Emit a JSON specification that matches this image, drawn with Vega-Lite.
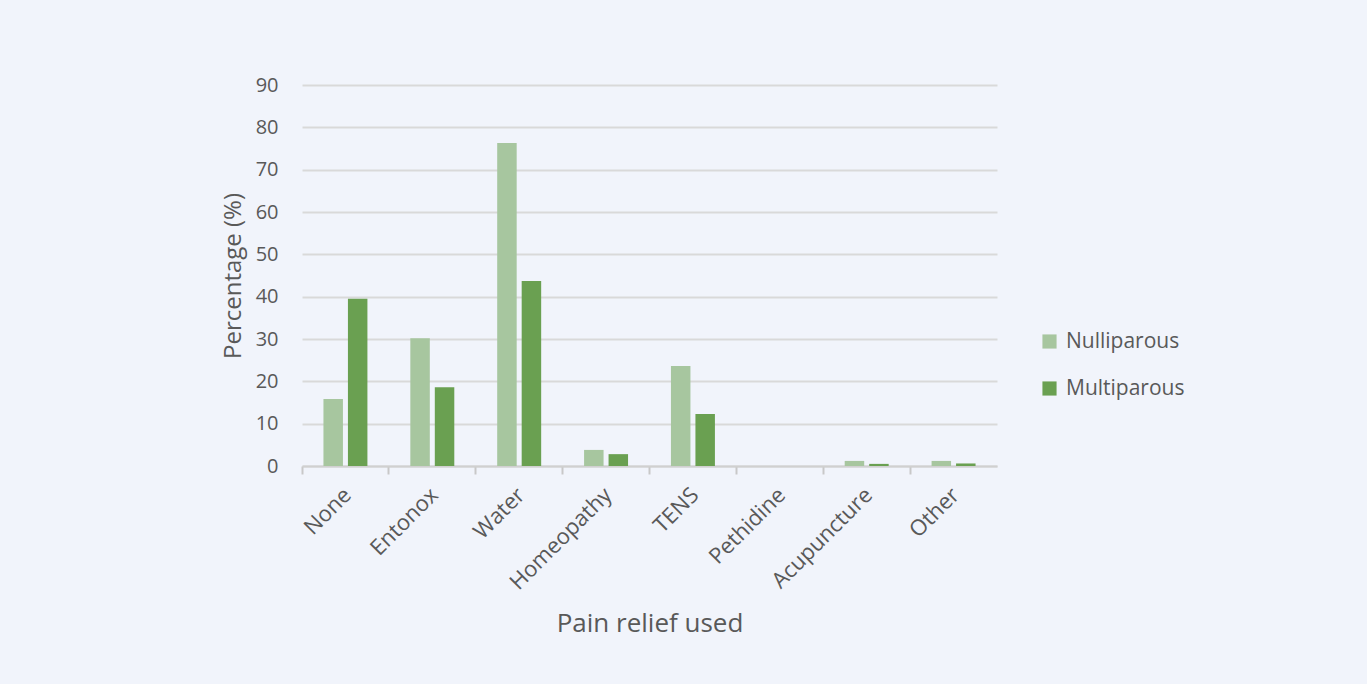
{
  "$schema": "https://vega.github.io/schema/vega-lite/v6.json",
  "width": 695,
  "height": 381,
  "autosize": {"type": "none"},
  "padding": {"left": 302, "top": 85, "right": 370, "bottom": 218},
  "background": "#f1f4fb",
  "config": {
    "view": {"stroke": null},
    "font": "Open Sans",
    "axis": {"labelColor": "#595959", "titleColor": "#595959", "labelFont": "Open Sans", "titleFont": "Open Sans", "titleFontWeight": "normal"},
    "legend": {"labelColor": "#595959", "labelFont": "Open Sans"}
  },
  "data": {
    "values": [
      {"relief": "None", "group": "Nulliparous", "pct": 15.8},
      {"relief": "None", "group": "Multiparous", "pct": 39.5},
      {"relief": "Entonox", "group": "Nulliparous", "pct": 30.2},
      {"relief": "Entonox", "group": "Multiparous", "pct": 18.6},
      {"relief": "Water", "group": "Nulliparous", "pct": 76.3},
      {"relief": "Water", "group": "Multiparous", "pct": 43.7},
      {"relief": "Homeopathy", "group": "Nulliparous", "pct": 3.8},
      {"relief": "Homeopathy", "group": "Multiparous", "pct": 2.8},
      {"relief": "TENS", "group": "Nulliparous", "pct": 23.6},
      {"relief": "TENS", "group": "Multiparous", "pct": 12.3},
      {"relief": "Pethidine", "group": "Nulliparous", "pct": 0},
      {"relief": "Pethidine", "group": "Multiparous", "pct": 0},
      {"relief": "Acupuncture", "group": "Nulliparous", "pct": 1.2},
      {"relief": "Acupuncture", "group": "Multiparous", "pct": 0.5},
      {"relief": "Other", "group": "Nulliparous", "pct": 1.2},
      {"relief": "Other", "group": "Multiparous", "pct": 0.6}
    ]
  },
  "resolve": {"axis": {"x": "independent"}},
  "layer": [
    {
      "mark": {"type": "bar", "opacity": 0},
      "encoding": {
        "x": {
          "field": "relief", "type": "nominal", "sort": null,
          "scale": {"paddingInner": 0, "paddingOuter": 0},
          "title": "Pain relief used",
          "axis": {
            "orient": "bottom",
            "labelAngle": -45, "labelFontSize": 22, "labelPadding": 18, "labelOffset": -5,
            "ticks": false, "domain": false, "titleFontSize": 26, "titlePadding": 17
          }
        }
      }
    },
    {
      "mark": {"type": "bar"},
      "encoding": {
        "x": {
          "field": "relief", "type": "nominal", "sort": null,
          "axis": {
            "orient": "bottom",
            "labels": false, "title": null, "bandPosition": 0,
            "ticks": true, "tickSize": 8, "tickColor": "#c8c8c8", "tickWidth": 2,
            "domain": true, "domainColor": "#d0d0d0", "domainWidth": 2
          }
        },
        "xOffset": {"field": "group", "type": "nominal", "sort": ["Nulliparous", "Multiparous"], "scale": {"paddingInner": 0.204, "paddingOuter": 0.876}},
        "y": {
          "field": "pct", "type": "quantitative",
          "scale": {"domain": [0, 90]},
          "title": "Percentage (%)",
          "axis": {
            "values": [0, 10, 20, 30, 40, 50, 60, 70, 80, 90],
            "domain": false, "ticks": false,
            "gridColor": "#d9d9d9", "gridWidth": 2,
            "labelFontSize": 20, "labelPadding": 24,
            "titleFontSize": 24, "titlePadding": 10
          }
        },
        "color": {
          "field": "group", "type": "nominal",
          "sort": ["Nulliparous", "Multiparous"],
          "scale": {"domain": ["Nulliparous", "Multiparous"], "range": ["#a7c69f", "#6aa051"]},
          "legend": {
            "title": null, "orient": "none", "legendX": 737, "legendY": 246,
            "symbolType": "square", "symbolSize": 200, "symbolStrokeWidth": 0,
            "labelFontSize": 21, "rowPadding": 25, "labelOffset": 6
          }
        }
      }
    }
  ]
}
